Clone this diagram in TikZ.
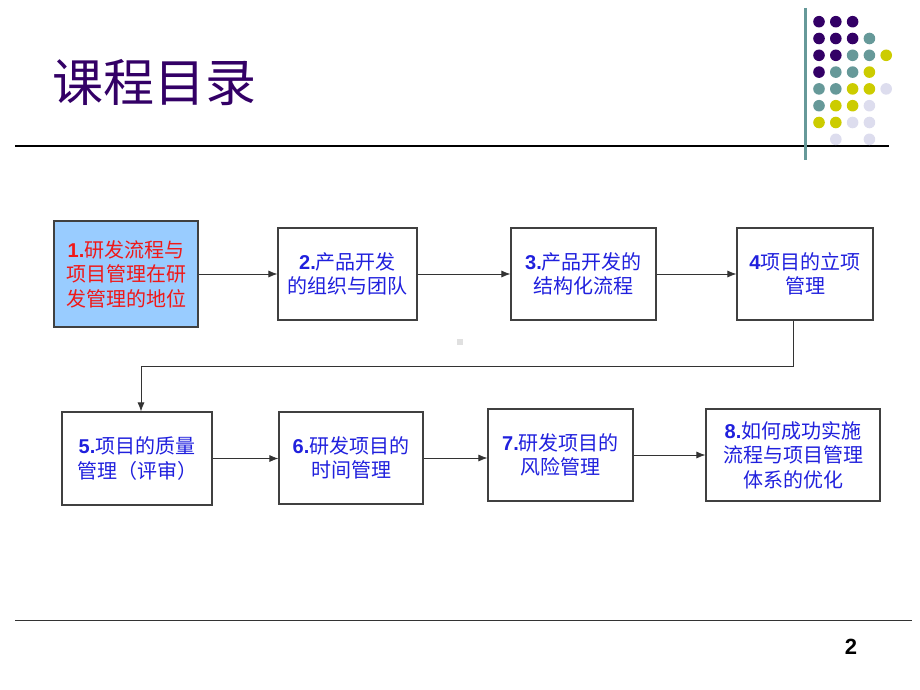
\documentclass[tikz,border=0pt]{standalone}
\usepackage{fontspec}
\setmainfont{Liberation Sans}
\newfontfamily\cjk{Noto Sans CJK SC}
\usepackage{tikz}
\usetikzlibrary{arrows.meta,positioning}
\usepackage{xcolor}
\definecolor{dotP}{HTML}{330066}
\definecolor{dotT}{HTML}{669999}
\definecolor{dotY}{HTML}{CCCC00}
\definecolor{dotL}{HTML}{DDDDEE}
\definecolor{txtblue}{HTML}{2020DD}
\definecolor{txtred}{HTML}{F01818}
\definecolor{boxfill}{HTML}{99CCFF}
\newcommand\nr[1]{{\normalfont\bfseries #1}}

\begin{document}
\begin{tikzpicture}[x=1pt,y=-1pt,
		chapbox/.style={draw=black!75,line width=1.2pt,inner sep=0pt,align=center,
			text=txtblue,font=\cjk\fontsize{20}{24.5}\selectfont},
		link/.style={draw=black!80,line width=0.8pt,-{Latex[length=9pt,width=7pt]}}]
				\useasboundingbox (0,0) rectangle (920,690);
				% title and rules
				\node[text=dotP,font=\cjk\fontsize{51}{51}\selectfont] (title) at (154,83) {课程目录};
				\draw[line width=1.4pt] (15,146) -- (889,146);
				\draw[dotT,line width=3pt] (805,8) -- (805,160);
				\foreach \c/\r/\col in {0/0/dotP,1/0/dotP,2/0/dotP,
					0/1/dotP,1/1/dotP,2/1/dotP,3/1/dotT,
					0/2/dotP,1/2/dotP,2/2/dotT,3/2/dotT,4/2/dotY,
					0/3/dotP,1/3/dotT,2/3/dotT,3/3/dotY,
					0/4/dotT,1/4/dotT,2/4/dotY,3/4/dotY,4/4/dotL,
					0/5/dotT,1/5/dotY,2/5/dotY,3/5/dotL,
					0/6/dotY,1/6/dotY,2/6/dotL,3/6/dotL,
					1/7/dotL,3/7/dotL}
				\fill[\col] (819+16.8*\c,21.7+16.8*\r) circle (5.8);
				\draw[black!80,line width=1.4pt] (15,620.5) -- (912,620.5);
				\node[font=\bfseries\fontsize{22}{22}\selectfont] (page) at (851,647) {2};
				% chapters
				\node[chapbox,fill=boxfill,text=txtred,minimum width=144,minimum height=106] (box1) at (126,274)
					{\nr{1.}研发流程与\\项目管理在研\\发管理的地位};
				\node[chapbox,minimum width=139,minimum height=92] (box2) at (347.5,274)
					{\nr{2.}产品开发\\的组织与团队};
				\node[chapbox,minimum width=145,minimum height=92] (box3) at (583.5,274)
					{\nr{3.}产品开发的\\结构化流程};
				\node[chapbox,minimum width=136,minimum height=92] (box4) at (805,274)
					{\nr{4}项目的立项\\管理};
				\node[chapbox,minimum width=150,minimum height=93] (box5) at (137,458.5)
					{\nr{5.}项目的质量\\管理（评审）};
				\node[chapbox,minimum width=144,minimum height=92] (box6) at (351,458)
					{\nr{6.}研发项目的\\时间管理};
				\node[chapbox,minimum width=145,minimum height=92] (box7) at (560.5,455)
					{\nr{7.}研发项目的\\风险管理};
				\node[chapbox,minimum width=174,minimum height=92] (box8) at (793,455)
					{\nr{8.}如何成功实施\\流程与项目管理\\体系的优化};
				\fill[black!12] (457,339) rectangle (463,345);
				% arrows
				\draw[link] (box1.east) -- (box2.west);
				\draw[link] (box2.east) -- (box3.west);
				\draw[link] (box3.east) -- (box4.west);
				\coordinate (turnA) at (793,366);
				\coordinate (turnB) at (141,366);
				\draw[link] (box4.south -| turnA) -- (turnA) -- (turnB) -- (turnB |- box5.north);
				\draw[link] (box5.east) -- (box5.east -| box6.west);
				\draw[link] (box6.east) -- (box6.east -| box7.west);
				\draw[link] (box7.east) -- (box8.west);
			\end{tikzpicture}
\end{document}
